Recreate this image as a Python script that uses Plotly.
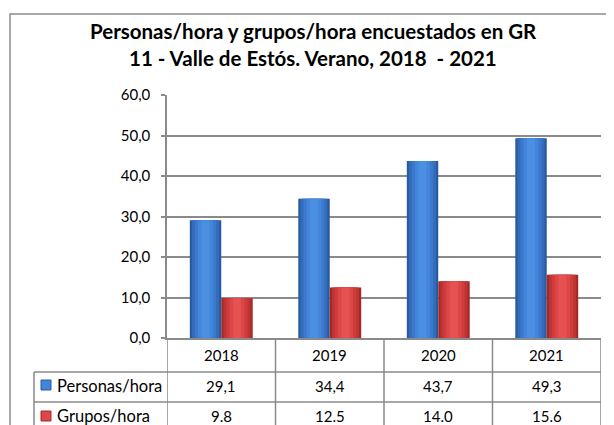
import plotly.graph_objects as go

# ---- data ----
years = ["2018", "2019", "2020", "2021"]
personas_hora = [29.1, 34.4, 43.7, 49.3]
grupos_hora = [9.8, 12.5, 14.0, 15.6]
series_names = ["Personas/hora", "Grupos/hora"]
title_lines = ["Personas/hora y grupos/hora encuestados en GR",
               "11 - Valle de Estós. Verano, 2018  - 2021"]
y_ticks = [0, 10, 20, 30, 40, 50, 60]

# ---- layout geometry (pixels, in screenshot coordinates) ----
OFF = 8  # page body margin
W, H = 614 - OFF, 425 - OFF
L, R, T, B = 167 - OFF, 601 - OFF, 95 - OFF, 338 - OFF
FONT = "Lato"
GRID = "#8a8a8a"
BLUE_SHADES = ["#2b5b9f", "#336cb9", "#3a79cc", "#4285da", "#4b8fe3"]
RED_SHADES = ["#a42a2a", "#bd3434", "#cf3c3c", "#dc4646", "#e65252"]
BAR_W = 0.29
LAYER_FRAC = [1.0, 0.86, 0.68, 0.48, 0.26]


def px2x(px):
    return (px - OFF - L) / (R - L)


def py2y(py):
    return (B - (py - OFF)) / (B - T)


fig = go.Figure()
for values, name, shades, side in ((personas_hora, series_names[0], BLUE_SHADES, -1),
                                   (grupos_hora, series_names[1], RED_SHADES, 1)):
    center = side * BAR_W / 2
    for frac, col in zip(LAYER_FRAC, shades):
        w = BAR_W * frac
        fig.add_trace(go.Bar(x=years, y=values, name=name, width=w,
                             offset=center - w / 2, marker=dict(color=col, line=dict(width=0)),
                             hoverinfo="skip" if frac < 1 else None))

shapes = []
# outer chart border (only left/top visible)
shapes.append(dict(type="rect", xref="paper", yref="paper",
                   x0=px2x(10), x1=px2x(660), y0=py2y(480), y1=py2y(14),
                   line=dict(color="#8c8c8c", width=1.5), layer="below"))
# data-table lines
tab_left, row1, row2, bottom = 34, 372, 402, 480
for yy in (row1, row2):
    shapes.append(dict(type="line", xref="paper", yref="paper",
                       x0=px2x(tab_left), x1=1, y0=py2y(yy), y1=py2y(yy),
                       line=dict(color=GRID, width=1.5)))
shapes.append(dict(type="line", xref="paper", yref="paper",
                   x0=px2x(tab_left), x1=px2x(tab_left), y0=py2y(row1), y1=py2y(bottom),
                   line=dict(color=GRID, width=1.5)))
for i in range(len(years) + 1):
    shapes.append(dict(type="line", xref="x", yref="paper",
                       x0=i - 0.5, x1=i - 0.5, y0=0, y1=py2y(bottom),
                       line=dict(color=GRID, width=1.5)))
# legend keys inside table
for shades, yc in ((BLUE_SHADES, 385), (RED_SHADES, 416)):
    shapes.append(dict(type="rect", xref="paper", yref="paper",
                       x0=px2x(41), x1=px2x(51), y0=py2y(yc - 5), y1=py2y(yc + 5),
                       fillcolor=shades[3], line=dict(color=shades[0], width=1)))

annotations = []
for line, yc in zip(title_lines, (31, 58)):
    annotations.append(dict(text="<b>%s</b>" % line, xref="paper", yref="paper",
                            x=px2x(313), y=py2y(yc), xanchor="center", yanchor="middle",
                            showarrow=False, font=dict(family=FONT, size=20.5, color="#000")))
tfont = dict(family=FONT, size=15, color="#000")
lfont = dict(family=FONT, size=16.5, color="#000")
for i, yr in enumerate(years):
    annotations.append(dict(text=yr, x=i, xref="x", yref="paper", y=py2y(355),
                            showarrow=False, font=tfont, yanchor="middle"))
for i, v in enumerate(personas_hora):
    annotations.append(dict(text=f"{v:.1f}".replace(".", ","), x=i, xref="x", yref="paper",
                            y=py2y(386), showarrow=False, font=tfont, yanchor="middle"))
for i, v in enumerate(grupos_hora):
    annotations.append(dict(text=f"{v:.1f}", x=i, xref="x", yref="paper",
                            y=py2y(416), showarrow=False, font=tfont, yanchor="middle"))
for name, yc in zip(series_names, (386, 416)):
    annotations.append(dict(text=name, xref="paper", yref="paper", x=px2x(55), y=py2y(yc),
                            xanchor="left", yanchor="middle", showarrow=False, font=lfont))

fig.update_layout(
    width=W, height=H,
    margin=dict(l=L, r=W - R, t=T, b=H - B, pad=0),
    paper_bgcolor="white", plot_bgcolor="white",
    barmode="overlay",
    showlegend=False,
    separators=",.",
    font=dict(family=FONT, size=15, color="#000"),
    xaxis=dict(type="category", range=[-0.5, len(years) - 0.5], showticklabels=False,
               showline=True, linecolor=GRID, linewidth=1.5, ticks="", showgrid=False,
               fixedrange=True),
    yaxis=dict(range=[0, 60], tickvals=y_ticks, tickformat=".1f", showgrid=True,
               gridcolor=GRID, gridwidth=1.5, showline=True, linecolor=GRID, linewidth=1.5,
               ticks="outside", ticklen=4, tickcolor=GRID, tickwidth=1.5,
               ticklabelstandoff=8, zeroline=False,
               tickfont=dict(family=FONT, size=15, color="#000"), fixedrange=True),
    shapes=shapes, annotations=annotations,
)

fig.write_html("out.html", config={"displayModeBar": False})
